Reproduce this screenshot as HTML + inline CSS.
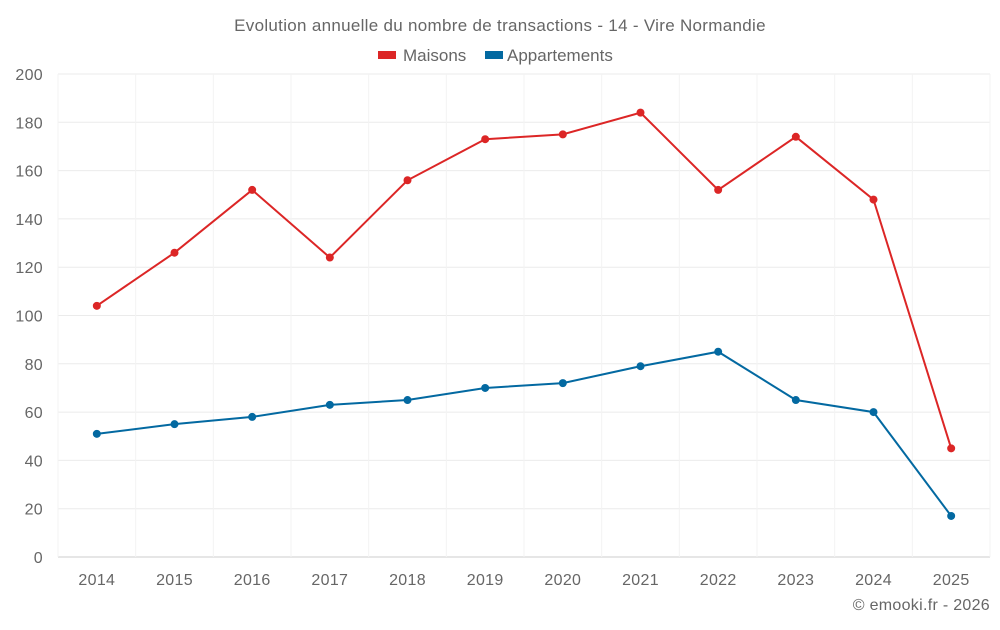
<!DOCTYPE html>
<html><head><meta charset="utf-8"><style>
body{margin:0;background:#fff;font-family:"Liberation Sans",sans-serif}
svg text{font-family:"Liberation Sans",sans-serif;fill:#666}
</style></head><body>
<svg id="chart" width="1000" height="625" xmlns="http://www.w3.org/2000/svg">
<text x="500" y="31" text-anchor="middle" font-size="17" letter-spacing="0.3">Evolution annuelle du nombre de transactions - 14 - Vire Normandie</text>
<g>
<g><rect x="378" y="51" width="18" height="8" fill="#dc2626"/><text x="403" y="61" font-size="17">Maisons</text></g>
<g><rect x="485" y="51" width="18" height="8" fill="#0369a1"/><text x="507" y="61" font-size="17">Appartements</text></g>
</g>
<g id="grid"></g><g id="axes"></g><g id="series"></g>
<text x="990" y="610" text-anchor="end" font-size="16" letter-spacing="0.3">© emooki.fr - 2026</text>
</svg>
<script>
const categories=["2014","2015","2016","2017","2018","2019","2020","2021","2022","2023","2024","2025"];
const maisons=[104,126,152,124,156,173,175,184,152,174,148,45];
const appartements=[51,55,58,63,65,70,72,79,85,65,60,17];
const yTicks=[0,20,40,60,80,100,120,140,160,180,200];
const NS="http://www.w3.org/2000/svg";
const L=58,R=990,T=74,B=557,yMax=200;
const bw=(R-L)/categories.length;
const x=i=>L+bw*(i+0.5);
const y=v=>B-(v/yMax)*(B-T);
function mk(tag,attrs,parent){const e=document.createElementNS(NS,tag);for(const k in attrs)e.setAttribute(k,attrs[k]);parent.appendChild(e);return e;}
const grid=document.getElementById('grid'),axes=document.getElementById('axes'),ser=document.getElementById('series');
yTicks.forEach(t=>{
 const l=mk('line',{x1:L,x2:R,y1:y(t),y2:y(t),stroke:t===0?'#ccc':'#ebebeb'},grid);
 
 
 const tx=mk('text',{x:L-15,y:y(t)+6,'text-anchor':'end','font-size':16,'letter-spacing':0.3},axes);tx.textContent=t;
 
 
});
for(let i=0;i<=categories.length;i++){
 const l=mk('line',{x1:L+bw*i,x2:L+bw*i,y1:T,y2:B,stroke:'#f3f3f3'},grid);
 
 
}
categories.forEach((c,i)=>{
 const tx=mk('text',{x:x(i),y:585,'text-anchor':'middle','font-size':16,'letter-spacing':0.3},axes);tx.textContent=c;
 
 
});
function draw(vals,color,name){
 const p=mk('polyline',{points:vals.map((v,i)=>x(i)+','+y(v)).join(' '),fill:'none',stroke:color,'stroke-width':2},ser);
 
 
 vals.forEach((v,i)=>{
  const c=mk('circle',{cx:x(i),cy:y(v),r:4,fill:color},ser);
  
  
 });
}
draw(maisons,'#dc2626','maisons');
draw(appartements,'#0369a1','appartements');
</script>
</body></html>
